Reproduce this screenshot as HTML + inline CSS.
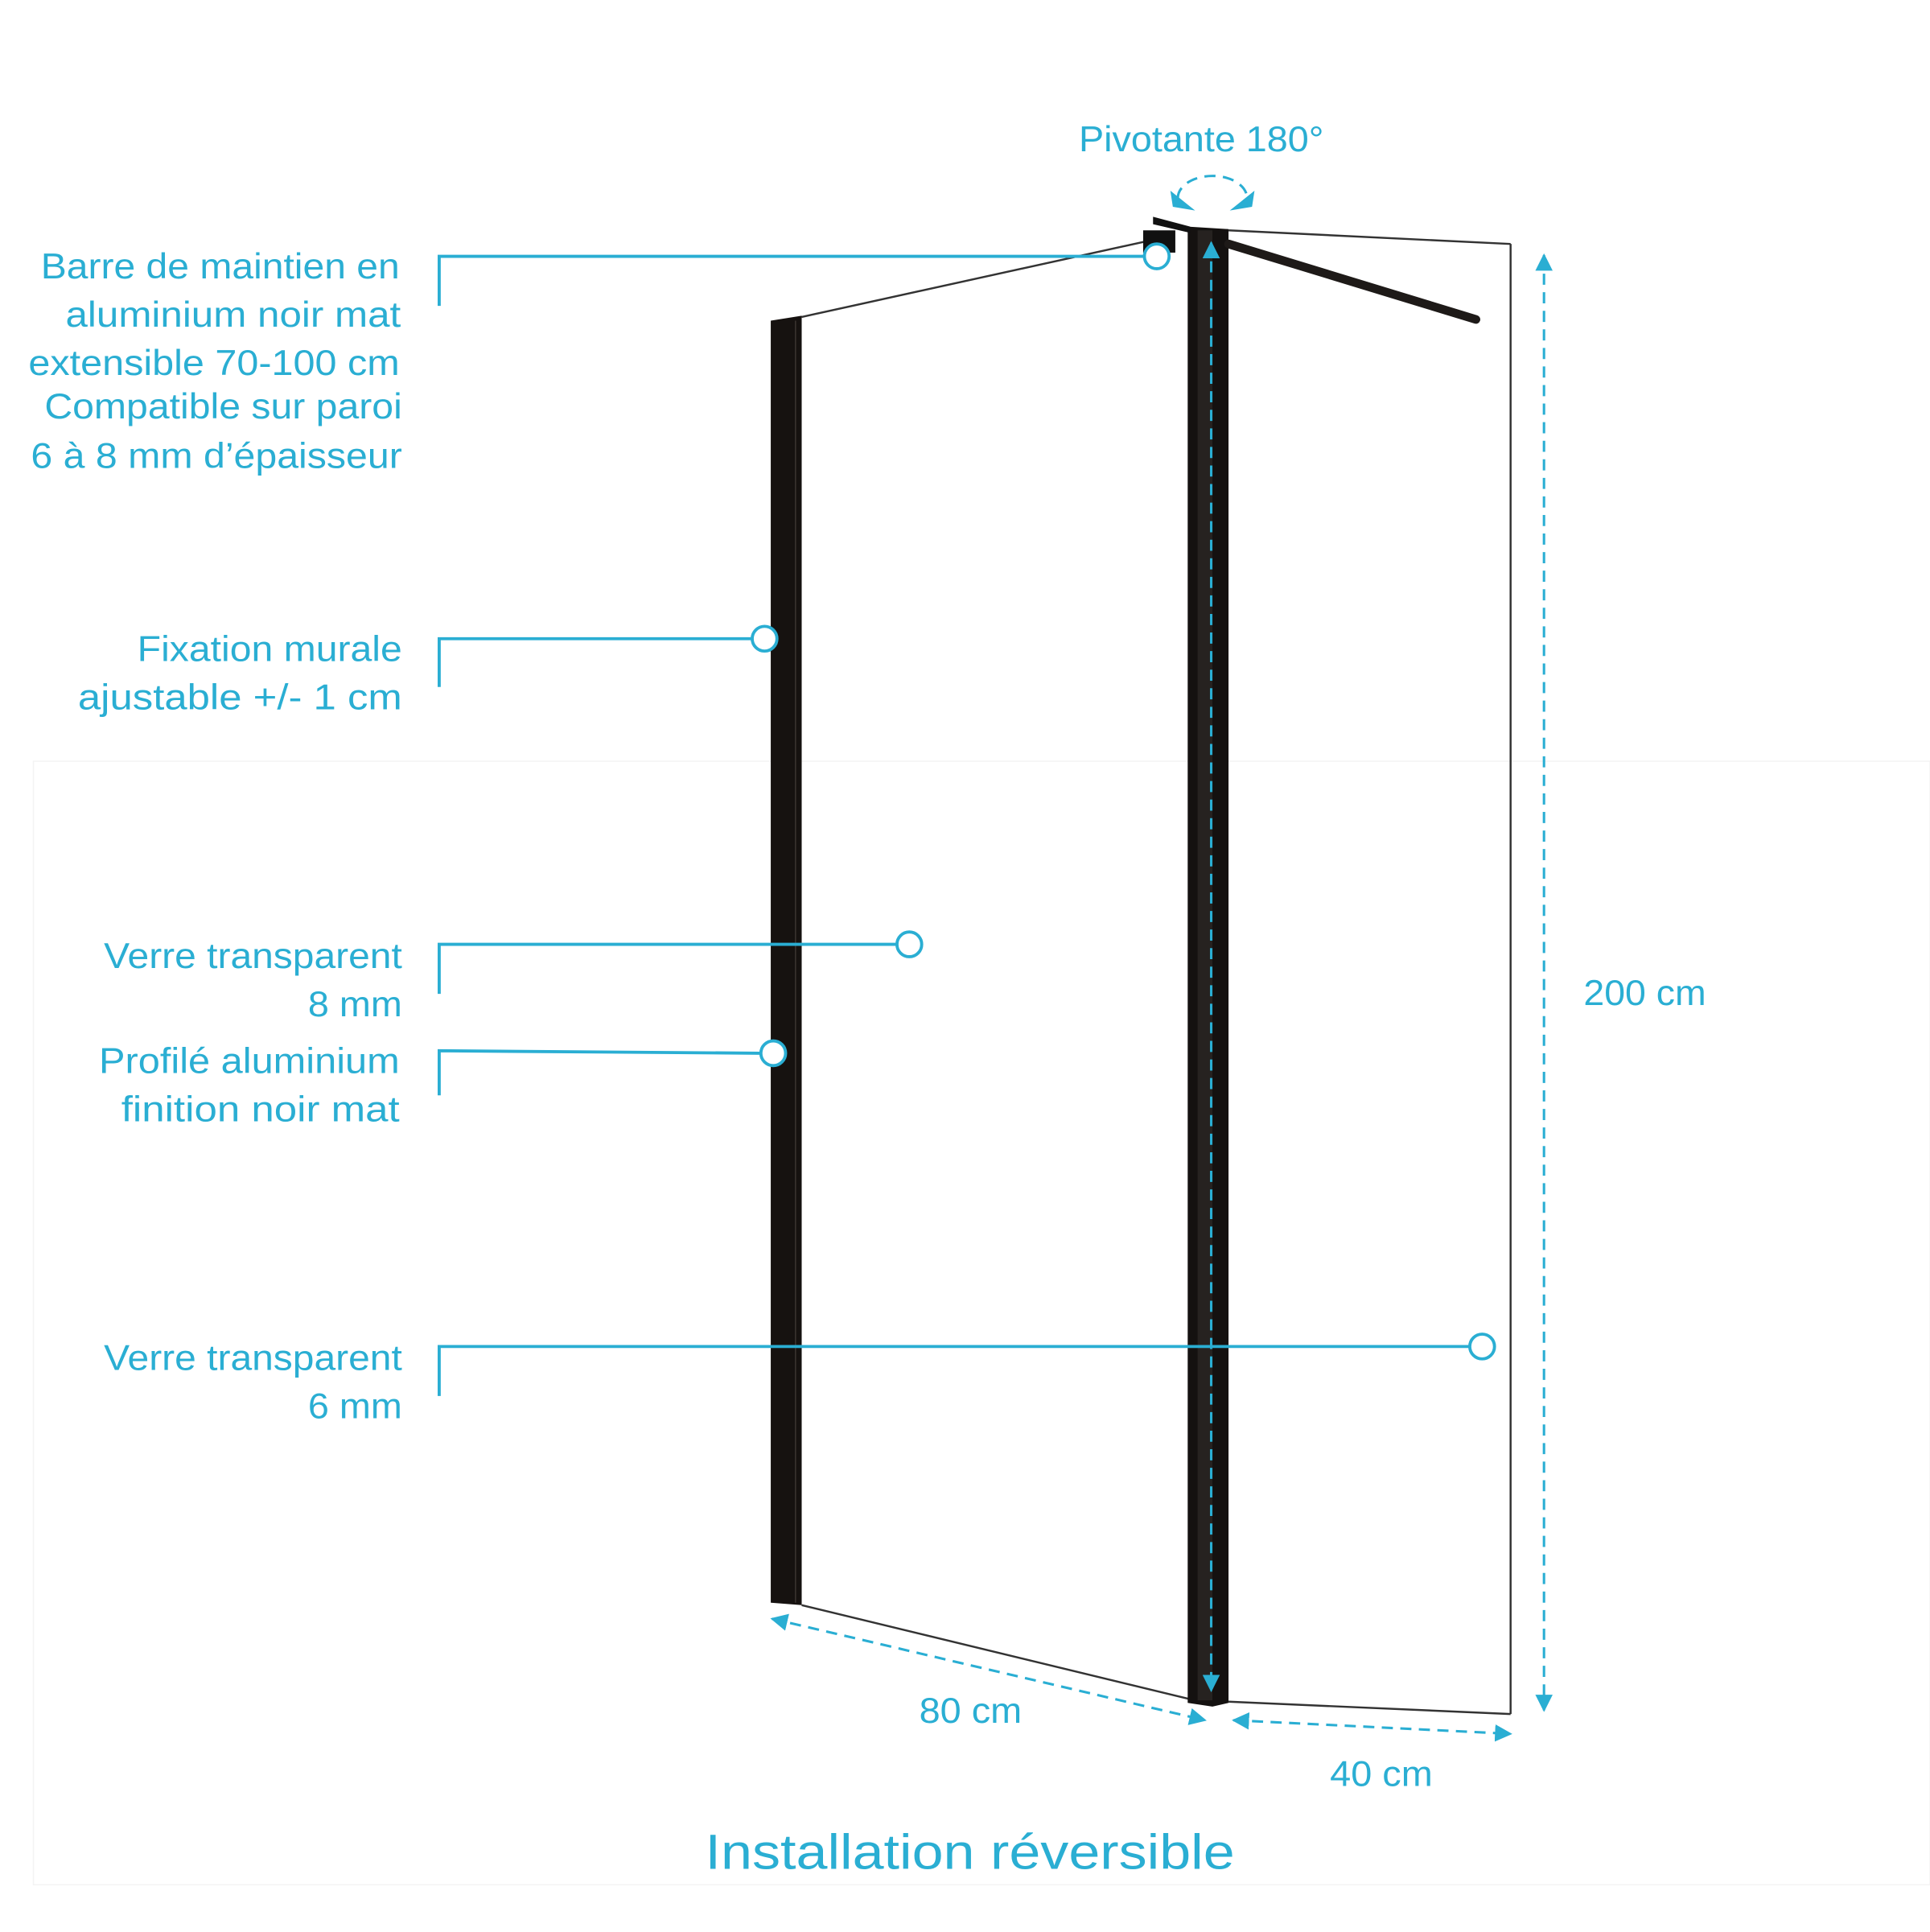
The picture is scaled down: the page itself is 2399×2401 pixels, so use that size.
<!DOCTYPE html>
<html><head><meta charset="utf-8"><style>
html,body{margin:0;padding:0;background:#fff;}
svg{display:block;}
text{font-family:"Liberation Sans Narrow","Liberation Sans",sans-serif;fill:#2aaed3;}
</style></head><body>
<svg width="2399" height="2401" viewBox="0 0 1560 1561" xmlns="http://www.w3.org/2000/svg">
<defs>
<marker id="ar" viewBox="0 0 10 10" refX="9" refY="5" markerWidth="7" markerHeight="7" orient="auto-start-reverse"><path d="M0,0 L10,5 L0,10 z" fill="#2aaed3"/></marker>
</defs>
<rect x="27" y="615" width="1533" height="908" fill="none" stroke="#f4f4f4" stroke-width="1"/>
<g stroke="#333" stroke-width="1.6" fill="none">
<line x1="648" y1="256" x2="935" y2="193"/>
<line x1="648" y1="1297" x2="962" y2="1373"/>
<line x1="993" y1="186" x2="1221" y2="197"/>
<line x1="1221" y1="197" x2="1221" y2="1385"/>
<line x1="993" y1="1375" x2="1221" y2="1385"/>
</g>
<polygon points="623,259 648,255 648,1297 623,1295" fill="#161210"/>
<line x1="643" y1="259" x2="643" y2="1295" stroke="#3a3430" stroke-width="1"/>
<polygon points="960,183 993,185 993,1376 980,1379 960,1376" fill="#141110"/>
<rect x="968" y="186" width="12" height="1188" fill="#262220"/>
<polygon points="932,175 962,183 962,188 932,181" fill="#111"/>
<rect x="924" y="186" width="26" height="18" fill="#111"/>
<line x1="993" y1="197" x2="1193" y2="258" stroke="#1e1a18" stroke-width="7" stroke-linecap="round"/>
<g stroke="#2aaed3" stroke-width="2" fill="none" stroke-dasharray="9,6">
<line x1="1248" y1="206" x2="1248" y2="1382" marker-start="url(#ar)" marker-end="url(#ar)"/>
<line x1="979" y1="196" x2="979" y2="1366" marker-start="url(#ar)" marker-end="url(#ar)"/>
<line x1="624" y1="1308" x2="974" y2="1390" marker-start="url(#ar)" marker-end="url(#ar)"/>
<line x1="997" y1="1390" x2="1221" y2="1401" marker-start="url(#ar)" marker-end="url(#ar)"/>
<path d="M952,160 A28,18 0 1 1 1008,160" />
</g>
<polygon points="946,154 966,170 948,167" fill="#2aaed3"/>
<polygon points="1014,154 994,170 1012,167" fill="#2aaed3"/>
<g stroke="#2aaed3" stroke-width="2.5" fill="none">
<polyline points="355,247 355,207 925,207"/><circle cx="935" cy="207" r="10" fill="#fff"/>
<polyline points="355,555 355,516 608,516"/><circle cx="618" cy="516" r="10" fill="#fff"/>
<polyline points="355,803 355,763 725,763"/><circle cx="735" cy="763" r="10" fill="#fff"/>
<polyline points="355,885 355,849 615,851"/><circle cx="625" cy="851" r="10" fill="#fff"/>
<polyline points="355,1128 355,1088 1188,1088"/><circle cx="1198" cy="1088" r="10" fill="#fff"/>
</g>
<g font-size="29" lengthAdjust="spacingAndGlyphs">
<text x="33" y="225" textLength="290" lengthAdjust="spacingAndGlyphs">Barre de maintien en</text>
<text x="53" y="264" textLength="271" lengthAdjust="spacingAndGlyphs">aluminium noir mat</text>
<text x="23" y="303" textLength="300" lengthAdjust="spacingAndGlyphs">extensible 70-100 cm</text>
<text x="36" y="338" textLength="289" lengthAdjust="spacingAndGlyphs">Compatible sur paroi</text>
<text x="25" y="378" textLength="300" lengthAdjust="spacingAndGlyphs">6 à 8 mm d’épaisseur</text>
<text x="111" y="534" textLength="214" lengthAdjust="spacingAndGlyphs">Fixation murale</text>
<text x="63" y="573" textLength="262" lengthAdjust="spacingAndGlyphs">ajustable +/- 1 cm</text>
<text x="84" y="782" textLength="241" lengthAdjust="spacingAndGlyphs">Verre transparent</text>
<text x="249" y="821" textLength="76" lengthAdjust="spacingAndGlyphs">8 mm</text>
<text x="80" y="867" textLength="243" lengthAdjust="spacingAndGlyphs">Profilé aluminium</text>
<text x="98" y="906" textLength="225" lengthAdjust="spacingAndGlyphs">finition noir mat</text>
<text x="84" y="1107" textLength="241" lengthAdjust="spacingAndGlyphs">Verre transparent</text>
<text x="249" y="1146" textLength="76" lengthAdjust="spacingAndGlyphs">6 mm</text>
<text x="872" y="122" textLength="198" lengthAdjust="spacingAndGlyphs">Pivotante 180°</text>
<text x="1280" y="812" textLength="99" lengthAdjust="spacingAndGlyphs">200 cm</text>
<text x="743" y="1392" textLength="83" lengthAdjust="spacingAndGlyphs">80 cm</text>
<text x="1075" y="1443" textLength="83" lengthAdjust="spacingAndGlyphs">40 cm</text>
</g>
<text x="570" y="1510" font-size="40" textLength="428" lengthAdjust="spacingAndGlyphs">Installation réversible</text>
</svg>
</body></html>
